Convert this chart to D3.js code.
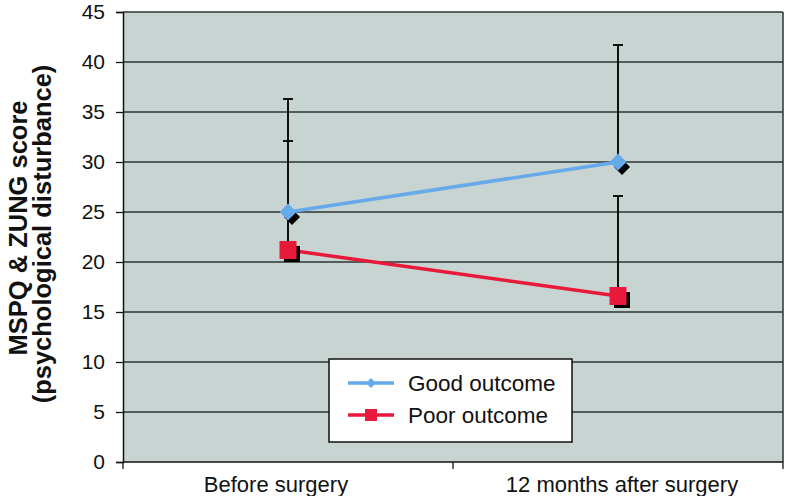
<!DOCTYPE html>
<html>
<head>
<meta charset="utf-8">
<script src="https://cdn.jsdelivr.net/npm/d3@7"></script>
<style>
  html, body { margin: 0; padding: 0; background: #ffffff; }
  svg { display: block; font-family: "Liberation Sans", Arial, Helvetica, sans-serif; }
</style>
</head>
<body>
<svg id="chart" width="786" height="496"></svg>
<script>
// ---- data ----
const categories = ["Before surgery", "12 months after surgery"];
const seriesNames = ["Good outcome", "Poor outcome"];
const goodValues = [25, 30];
const poorValues = [21.2, 16.6];
const goodErrUpper = [11.3, 11.7];
const poorErrUpper = [10.9, 10.0];
const yTicks = [0, 5, 10, 15, 20, 25, 30, 35, 40, 45];
const yTitleLines = ["MSPQ & ZUNG score", "(psychological disturbance)"];

// ---- layout ----
const L = 123, R = 783, T = 12, B = 462;
const svg = d3.select("#chart");

const xBand = d3.scaleBand().domain(categories).range([L, R]).padding(0);
const xc = c => xBand(c) + xBand.bandwidth() / 2;
const y = d3.scaleLinear().domain([0, 45]).range([B, T]);

const blue = "#66aaea";
const red = "#e8193b";
const grid = "#2b3533";

// plot background
svg.append("rect").attr("x", L).attr("y", T).attr("width", R - L).attr("height", B - T)
  .attr("fill", "#c8d4d1");

// gridlines
svg.append("g").selectAll("line").data(yTicks.filter(v => v > 0)).join("line")
  .attr("x1", L).attr("x2", R)
  .attr("y1", d => y(d)).attr("y2", d => y(d))
  .attr("stroke", grid).attr("stroke-width", 1.3);

// right border
svg.append("line").attr("x1", R).attr("x2", R).attr("y1", T).attr("y2", B)
  .attr("stroke", grid).attr("stroke-width", 1.5);

// y axis
const yAxis = svg.append("g").attr("transform", `translate(${L},0)`)
  .call(d3.axisLeft(y).tickValues(yTicks).tickSize(7).tickPadding(11));
yAxis.select(".domain").attr("stroke", "#111").attr("stroke-width", 1.5);
yAxis.selectAll(".tick line").attr("stroke", "#111").attr("stroke-width", 1.3);
yAxis.selectAll(".tick text").attr("font-size", 21).attr("fill", "#111")
  .attr("font-family", "Liberation Sans, Arial, sans-serif");

// x axis
const xAxisG = svg.append("g");
xAxisG.append("line").attr("x1", L).attr("x2", R).attr("y1", B).attr("y2", B)
  .attr("stroke", "#111").attr("stroke-width", 1.6);
const edges = categories.map(c => xBand(c)).concat([xBand(categories[categories.length - 1]) + xBand.bandwidth()]);
xAxisG.selectAll("line.xt").data(edges).join("line").attr("class", "xt")
  .attr("x1", d => d).attr("x2", d => d).attr("y1", B).attr("y2", B + 7)
  .attr("stroke", "#111").attr("stroke-width", 1.3);
const labelShift = [-12, 4];
xAxisG.selectAll("text").data(categories).join("text")
  .attr("x", (d, i) => xc(d) + labelShift[i]).attr("y", 492)
  .attr("text-anchor", "middle").attr("font-size", 22).attr("fill", "#111")
  .text(d => d);

// y title
const yTitle = svg.append("g");
const titleX = [27, 51], titleY = [228, 234];
yTitleLines.forEach((t, i) => {
  yTitle.append("text")
    .attr("transform", `translate(${titleX[i]},${titleY[i]}) rotate(-90)`)
    .attr("text-anchor", "middle").attr("font-size", 25.5).attr("font-weight", "bold")
    .attr("fill", "#111").text(t);
});

// error bars (upper only)
function errBars(vals, errs) {
  const g = svg.append("g");
  categories.forEach((c, i) => {
    const x0 = xc(c), y0 = y(vals[i]), y1 = y(vals[i] + errs[i]);
    g.append("line").attr("x1", x0).attr("x2", x0).attr("y1", y0).attr("y2", y1)
      .attr("stroke", "#111").attr("stroke-width", 2);
    g.append("line").attr("x1", x0 - 5).attr("x2", x0 + 5).attr("y1", y1).attr("y2", y1)
      .attr("stroke", "#111").attr("stroke-width", 2);
  });
}
errBars(goodValues, goodErrUpper);
errBars(poorValues, poorErrUpper);

// lines
const lineGen = d3.line().x((d, i) => xc(categories[i])).y(d => y(d));
svg.append("path").datum(goodValues).attr("d", lineGen)
  .attr("fill", "none").attr("stroke", blue).attr("stroke-width", 3.5);
svg.append("path").datum(poorValues).attr("d", lineGen)
  .attr("fill", "none").attr("stroke", red).attr("stroke-width", 3.5);

// markers with shadows
const diamond = (cx, cy, r) => `M${cx},${cy - r}L${cx + r},${cy}L${cx},${cy + r}L${cx - r},${cy}Z`;
goodValues.forEach((v, i) => {
  const cx = xc(categories[i]), cy = y(v);
  svg.append("path").attr("d", diamond(cx + 4, cy + 5, 8)).attr("fill", "#000");
  svg.append("path").attr("d", diamond(cx, cy, 8.5)).attr("fill", blue);
});
poorValues.forEach((v, i) => {
  const cx = xc(categories[i]), cy = y(v);
  svg.append("rect").attr("x", cx - 8 + 4).attr("y", cy - 8 + 4).attr("width", 16).attr("height", 16).attr("fill", "#000");
  svg.append("rect").attr("x", cx - 8.5).attr("y", cy - 9).attr("width", 17).attr("height", 18).attr("fill", red);
});

// legend
const lg = svg.append("g");
lg.append("rect").attr("x", 329).attr("y", 359).attr("width", 243).attr("height", 83)
  .attr("fill", "#ffffff").attr("stroke", "#111").attr("stroke-width", 1.5);
const legColors = [blue, red];
const legY = [383, 415];
seriesNames.forEach((name, i) => {
  lg.append("line").attr("x1", 348).attr("x2", 394).attr("y1", legY[i]).attr("y2", legY[i])
    .attr("stroke", legColors[i]).attr("stroke-width", 3.5);
  if (i === 0) {
    lg.append("path").attr("d", diamond(371, legY[i], 5)).attr("fill", blue);
  } else {
    lg.append("rect").attr("x", 365).attr("y", legY[i] - 6).attr("width", 12).attr("height", 12).attr("fill", red);
  }
  lg.append("text").attr("x", 408).attr("y", legY[i] + 8).attr("font-size", 22.5).attr("fill", "#111")
    .text(name);
});
</script>
</body>
</html>
